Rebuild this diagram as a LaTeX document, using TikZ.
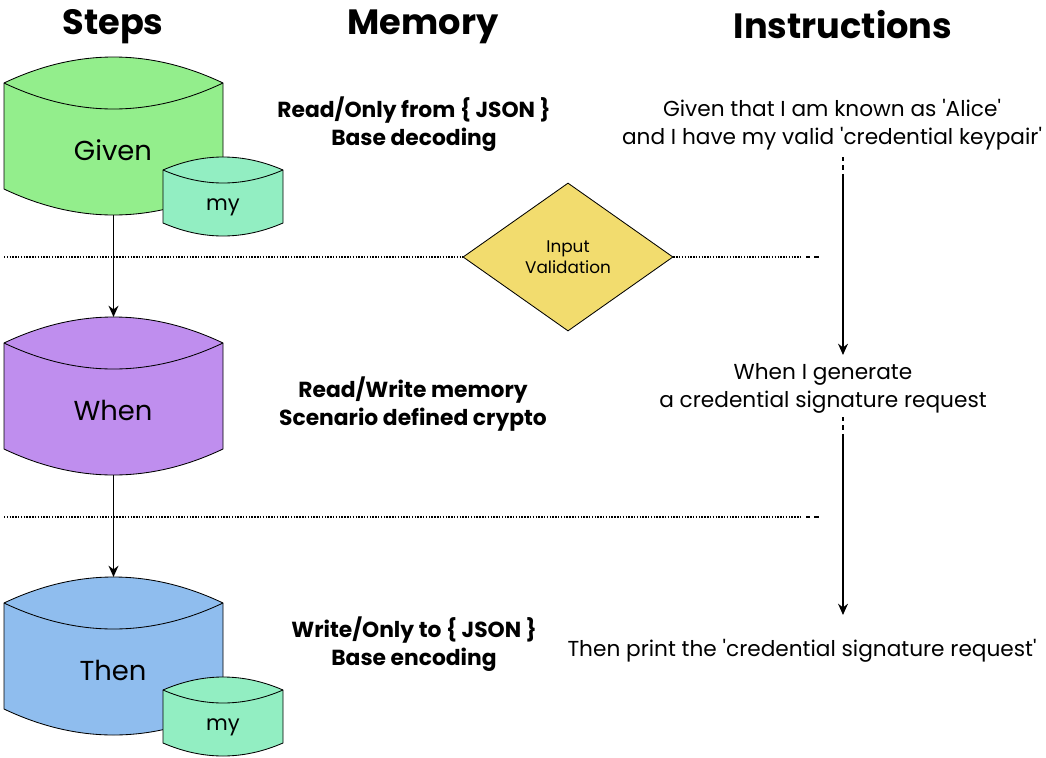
\documentclass[tikz,border=0pt]{standalone}
\usepackage{fontspec}
\setmainfont{Poppins}[Ligatures=TeXOff]
\usetikzlibrary{arrows.meta,shapes.geometric}

\definecolor{givenfill}{HTML}{93EE8C}
\definecolor{myfill}{HTML}{92EEC2}
\definecolor{whenfill}{HTML}{BF8EEE}
\definecolor{thenfill}{HTML}{8FBDEE}
\definecolor{checkfill}{HTML}{F2DC6E}

\tikzset{
  pics/drum/.style n args={3}{code={
    \draw [fill=\pgfkeysvalueof{/tikz/drumfill}, line width=0.6pt]
      (-#1,{-#2+#3}) .. controls ({-#1/3},{-#2-#3/3}) and ({#1/3},{-#2-#3/3}) .. (#1,{-#2+#3})
      -- (#1,{#2-#3}) .. controls ({#1/3},{#2+#3/3}) and ({-#1/3},{#2+#3/3}) .. (-#1,{#2-#3})
      -- cycle;
    \draw [line width=0.6pt]
      (-#1,{-#2+#3}) .. controls ({-#1/3},{-#2+7*#3/3}) and ({#1/3},{-#2+7*#3/3}) .. (#1,{-#2+#3});
    \coordinate (-top)    at (0,-#2);
    \coordinate (-bottom) at (0,#2);
  }},
  drumfill/.initial=white,
}

\begin{document}
\begin{tikzpicture}[
    x=0.025cm, y=-0.025cm,
    head/.style={font=\fontsize{25}{30}\selectfont\bfseries},
    steptext/.style={font=\fontsize{19.5}{23}\selectfont},
    mytext/.style={font=\fontsize{15}{18}\selectfont},
    memtext/.style={font=\fontsize{15.5}{20}\selectfont\bfseries, align=center},
    instext/.style={font=\fontsize{15.4}{20}\selectfont, align=center},
    flow/.style={-{Stealth[length=8pt, width=7pt]}, line width=1.3pt},
    divider/.style={line width=0.8pt, dash pattern=on 1pt off 1pt},
]
  \useasboundingbox (0,0) rectangle (1046,757);

  % column headings
  \node [head] (steps)  at (113,27) {Steps};
  \node [head] (memory) at (423,27) {Memory};
  \node [head] (instr)  at (843,25) {Instructions};

  % steps
  \pic [drumfill=givenfill] (given) at (113.5,136)   {drum={109.5}{79}{26}};
  \pic [drumfill=myfill]    (mya)   at (223,196.5)   {drum={60}{39.5}{13}};
  \pic [drumfill=whenfill]  (when)  at (113.5,396)   {drum={109.5}{79}{26}};
  \pic [drumfill=thenfill]  (then)  at (113.5,656)   {drum={109.5}{79}{26}};
  \pic [drumfill=myfill]    (myb)   at (223,716.5)   {drum={60}{39.5}{13}};

  \node [steptext] (givenlbl) at (113,150) {Given};
  \node [mytext]   (myalbl)   at (223,207) {my};
  \node [steptext] (whenlbl)  at (113,410) {When};
  \node [steptext] (thenlbl)  at (113,670) {Then};
  \node [mytext]   (myblbl)   at (223,727) {my};

  \draw [flow] (given-bottom) -- (when-top);
  \draw [flow] (when-bottom)  -- (then-top);

  % validation between given and when
  \node [diamond, draw, fill=checkfill, line width=0.6pt, inner sep=0pt,
         minimum width=5.25cm, minimum height=3.7cm, align=center,
         font=\fontsize{12}{15}\selectfont] (valid) at (568,257) {Input\\Validation};
  \draw [divider] (4,257) -- (valid.west);
  \draw [divider] (valid.east) -- (802,257);
  \draw [dashed, line width=0.8pt] (806,257) -- (822,257);
  \draw [divider] (4,517) -- (802,517);
  \draw [dashed, line width=0.8pt] (806,517) -- (822,517);

  % memory
  \node [memtext] (memgiven) at (414,124) {Read/Only from \{ JSON \}\\Base decoding};
  \node [memtext] (memwhen)  at (413,404) {Read/Write memory\\Scenario defined crypto};
  \node [memtext] (memthen)  at (414,644) {Write/Only to \{ JSON \}\\Base encoding};

  % instructions
  \node [instext] (insgiven) at (832,125) {Given that I am known as 'Alice'\\and I have my valid 'credential keypair'};
  \node [instext] (inswhen)  at (823,388) {When I generate\\a credential signature request};
  \node [instext] (insthen)  at (802,651) {Then print the 'credential signature request'};

  \coordinate (gostart) at (843,157);
  \coordinate (gobreak) at (843,177);
  \coordinate (wostart) at (843,417);
  \coordinate (wobreak) at (843,437);
  \draw [dashed, line width=1pt] (gostart) -- (gobreak);
  \draw [flow] (gobreak) -- (843,355);
  \draw [dashed, line width=1pt] (wostart) -- (wobreak);
  \draw [flow] (wobreak) -- (843,615);
\end{tikzpicture}
\end{document}
